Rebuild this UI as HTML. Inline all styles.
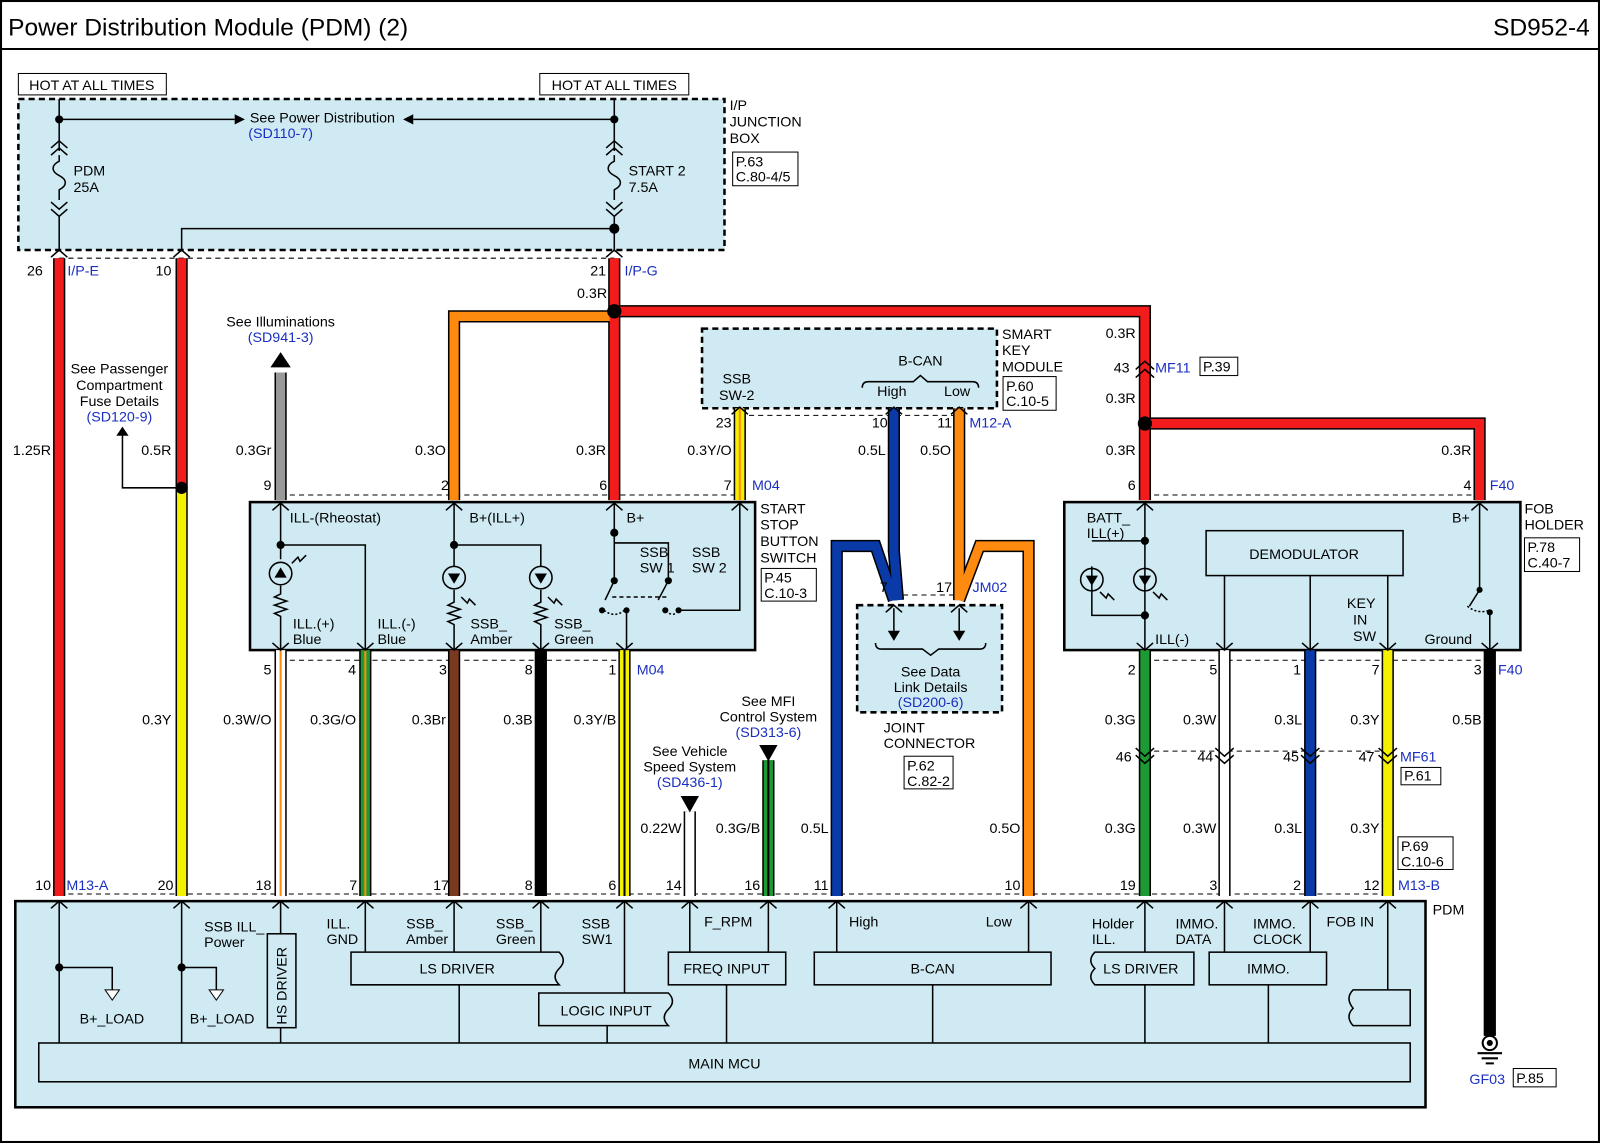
<!DOCTYPE html>
<html><head><meta charset="utf-8"><style>
html,body{margin:0;padding:0;background:#fff}
svg{display:block}
text{font-family:"Liberation Sans",Arial,sans-serif;font-size:14px;fill:#000}
.b{fill:#1a2fc0}
.c{text-anchor:middle}
.e{text-anchor:end}
</style></head><body>
<svg width="1600" height="1143" viewBox="0 0 1568 1120" preserveAspectRatio="none" xmlns="http://www.w3.org/2000/svg">
<rect x="0" y="0" width="1568" height="1120" fill="#fff"/>
<rect x="1" y="1" width="1566" height="1118" fill="none" stroke="#000" stroke-width="2"/>
<line x1="0" y1="48" x2="1568" y2="48" stroke="#000" stroke-width="2"/>
<text x="8" y="35" style="font-size:24px">Power Distribution Module (PDM) (2)</text>
<text x="1558" y="35" class="e" style="font-size:24px">SD952-4</text>

<rect x="18" y="97" width="692" height="148" fill="#cfeaf2" stroke="#000" stroke-width="2.5" stroke-dasharray="6,4"/>
<rect x="688" y="322" width="289" height="78" fill="#cfeaf2" stroke="#000" stroke-width="2.5" stroke-dasharray="6,4"/>
<rect x="840" y="593" width="142" height="105" fill="#cfeaf2" stroke="#000" stroke-width="2.5" stroke-dasharray="6,4"/>
<rect x="245" y="492" width="495" height="145" fill="#cfeaf2" stroke="#000" stroke-width="2.5"/>
<rect x="1043" y="492" width="447" height="145" fill="#cfeaf2" stroke="#000" stroke-width="2.5"/>
<rect x="15" y="883" width="1382" height="202" fill="#cfeaf2" stroke="#000" stroke-width="2.5"/>
<rect x="38" y="1022" width="1344" height="38" fill="#cfeaf2" stroke="#000" stroke-width="1.5"/>
<text x="710" y="1047" class="c">MAIN MCU</text>

<rect x="18" y="72" width="145" height="21" fill="#fff" stroke="#000"/><text x="90" y="88" class="c">HOT AT ALL TIMES</text>
<rect x="529" y="72" width="146" height="21" fill="#fff" stroke="#000"/><text x="602" y="88" class="c">HOT AT ALL TIMES</text>

<g stroke="#000" stroke-width="1" stroke-dasharray="5,4" fill="none">
<line x1="58" y1="253" x2="602" y2="253"/>
<line x1="275" y1="485" x2="725" y2="485"/>
<line x1="275" y1="647" x2="612" y2="647"/>
<line x1="725" y1="407" x2="940" y2="407"/>
<line x1="1122" y1="485" x2="1450" y2="485"/>
<line x1="1122" y1="647" x2="1460" y2="647"/>
<line x1="1122" y1="736" x2="1360" y2="736"/>
<line x1="58" y1="876" x2="1360" y2="876"/>
<line x1="876" y1="583" x2="940" y2="583"/>
</g>

<g stroke="#000" stroke-width="1.5" fill="none">
<line x1="58" y1="97" x2="58" y2="140"/><line x1="602" y1="97" x2="602" y2="140"/>
<line x1="58" y1="117" x2="230" y2="117"/><line x1="405" y1="117" x2="602" y2="117"/>
<path d="M58 140 v8 M50 145 l8 -7 l8 7 M50 152 l8 -7 l8 7 M58 152 v6 c-8 4 -8 10 0 14 c8 4 8 10 0 14 v10 M50 198 l8 7 l8 -7 M50 205 l8 7 l8 -7 M58 212 v33"/>
<path d="M602 140 v8 M594 145 l8 -7 l8 7 M594 152 l8 -7 l8 7 M602 152 v6 c-8 4 -8 10 0 14 c8 4 8 10 0 14 v10 M594 198 l8 7 l8 -7 M594 205 l8 7 l8 -7 M602 212 v33"/>
<path d="M602 224 H178 V245"/>
<path d="M178 478 H120 V425"/>
</g>
<polygon points="230,112 240,117 230,122" fill="#000"/><polygon points="405,112 395,117 405,122" fill="#000"/>
<polygon points="114,427 120,418 126,427" fill="#000"/>
<circle cx="58" cy="117" r="4"/><circle cx="602" cy="117" r="4"/><circle cx="602" cy="224" r="5"/>
<text x="316" y="120" class="c">See Power Distribution</text><text x="275" y="135" class="c b">(SD110-7)</text>
<text x="72" y="172">PDM</text><text x="72" y="188">25A</text>
<text x="616" y="172">START 2</text><text x="616" y="188">7.5A</text>
<text x="715" y="108">I/P</text><text x="715" y="124">JUNCTION</text><text x="715" y="140">BOX</text>
<rect x="718" y="149" width="64" height="33" fill="#fff" stroke="#000"/><text x="721" y="163">P.63</text><text x="721" y="178">C.80-4/5</text>

<g fill="none" stroke-linejoin="miter">
<g stroke="#000" stroke-width="12">
<path d="M58 253 V878"/><path d="M178 253 V878"/><path d="M602 253 V490"/><path d="M445 490 V310 H602"/><path d="M602 305 H1122 V490"/><path d="M1122 415 H1450 V490"/>
<path d="M275 365 V490"/><path d="M725 400 V490"/>
<path d="M876 400 V540 L880 588"/><path d="M820 878 V535 H858 L876 588"/>
<path d="M940 400 V540 L940 588"/><path d="M1008 878 V535 H960 L940 588"/>
<path d="M358 637 V878"/><path d="M445 637 V878"/><path d="M530 637 V878"/><path d="M612 637 V878"/><path d="M275 637 V878"/>
<path d="M753 745 V878"/><path d="M676 795 V878"/>
<path d="M1122 637 V878"/><path d="M1200 637 V878"/><path d="M1284 637 V878"/><path d="M1360 637 V878"/><path d="M1460 637 V1015"/>
</g>
<g stroke-width="9">
<path d="M58 253 V878" stroke="#f21c1c"/>
<path d="M178 253 V478" stroke="#f21c1c"/><path d="M178 478 V878" stroke="#f5f000"/>
<path d="M445 490 V310 H602" stroke="#ff8a10"/>
<path d="M602 253 V490" stroke="#f21c1c"/>
<path d="M602 305 H1122 V490" stroke="#f21c1c"/>
<path d="M1122 415 H1450 V490" stroke="#f21c1c"/>
<path d="M275 365 V490" stroke="#999"/>
<path d="M725 400 V490" stroke="#f5f000"/>
<path d="M876 400 V540 L880 588" stroke="#0a3aa8"/><path d="M820 878 V535 H858 L876 588" stroke="#0a3aa8"/>
<path d="M940 400 V540 L940 588" stroke="#ff8a10"/><path d="M1008 878 V535 H960 L940 588" stroke="#ff8a10"/>
<path d="M275 637 V878" stroke="#fff"/>
<path d="M358 637 V878" stroke="#1d9a34"/>
<path d="M445 637 V878" stroke="#7a3a22"/>
<path d="M530 637 V878" stroke="#000"/>
<path d="M612 637 V878" stroke="#f5f000"/>
<path d="M676 795 V878" stroke="#fff"/>
<path d="M753 745 V878" stroke="#1d9a34"/>
<path d="M1122 637 V878" stroke="#1d9a34"/>
<path d="M1200 637 V878" stroke="#fff"/>
<path d="M1284 637 V878" stroke="#0a3aa8"/>
<path d="M1360 637 V878" stroke="#f5f000"/>
<path d="M1460 637 V1015" stroke="#000"/>
</g>
<g stroke-width="2">
<path d="M275 637 V878" stroke="#ff8a10"/><path d="M358 637 V878" stroke="#ff8a10"/><path d="M612 637 V878" stroke="#000"/><path d="M753 745 V878" stroke="#000"/><path d="M725 400 V490" stroke="#ff8a10"/>
</g>
</g>
<circle cx="178" cy="478" r="6"/><circle cx="602" cy="305" r="7"/><circle cx="1122" cy="415" r="7"/>
<polygon points="265,360 275,345 285,360" fill="#000"/>
<polygon points="744,730 762,730 753,746" fill="#000"/>
<polygon points="667,780 685,780 676,796" fill="#000"/>
<g stroke="#000" stroke-width="1.5" fill="none">
<path d="M1113 362 l9 -8 l9 8 M1113 370 l9 -8 l9 8"/>
<path d="M1113 733 l9 8 l9 -8 M1113 740 l9 8 l9 -8 M1191 733 l9 8 l9 -8 M1191 740 l9 8 l9 -8 M1275 733 l9 8 l9 -8 M1275 740 l9 8 l9 -8 M1351 733 l9 8 l9 -8 M1351 740 l9 8 l9 -8"/>
</g>
<g stroke="#000" stroke-width="2" fill="none"><circle cx="1460" cy="1022" r="7"/><path d="M1448 1032 h24 M1452 1037 h16 M1456 1042 h8"/></g>
<circle cx="1460" cy="1022" r="3"/>

<text x="42" y="270" class="e">26</text><text x="66" y="270" class="b">I/P-E</text>
<text x="168" y="270" class="e">10</text>
<text x="594" y="270" class="e">21</text><text x="612" y="270" class="b">I/P-G</text>
<text x="595" y="292" class="e">0.3R</text>
<text x="50" y="446" class="e">1.25R</text><text x="168" y="446" class="e">0.5R</text><text x="266" y="446" class="e">0.3Gr</text><text x="437" y="446" class="e">0.3O</text><text x="594" y="446" class="e">0.3R</text><text x="717" y="446" class="e">0.3Y/O</text>
<text x="868" y="446" class="e">0.5L</text><text x="932" y="446" class="e">0.5O</text>
<text x="1113" y="331" class="e">0.3R</text><text x="1107" y="365" class="e">43</text><text x="1132" y="365" class="b">MF11</text>
<rect x="1176" y="350" width="37" height="18" fill="#fff" stroke="#000"/><text x="1179" y="364">P.39</text>
<text x="1113" y="395" class="e">0.3R</text><text x="1113" y="446" class="e">0.3R</text><text x="1442" y="446" class="e">0.3R</text>
<text x="117" y="366" class="c">See Passenger</text><text x="117" y="382" class="c">Compartment</text><text x="117" y="398" class="c">Fuse Details</text><text x="117" y="413" class="c b">(SD120-9)</text>
<text x="275" y="320" class="c">See Illuminations</text><text x="275" y="335" class="c b">(SD941-3)</text>
<text x="266" y="480" class="e">9</text><text x="440" y="480" class="e">2</text><text x="595" y="480" class="e">6</text><text x="717" y="480" class="e">7</text><text x="737" y="480" class="b">M04</text>
<text x="717" y="419" class="e">23</text><text x="870" y="419" class="e">10</text><text x="933" y="419" class="e">11</text><text x="950" y="419" class="b">M12-A</text>
<text x="870" y="580" class="e">7</text><text x="933" y="580" class="e">17</text><text x="953" y="580" class="b">JM02</text>
<text x="266" y="661" class="e">5</text><text x="349" y="661" class="e">4</text><text x="438" y="661" class="e">3</text><text x="522" y="661" class="e">8</text><text x="604" y="661" class="e">1</text><text x="624" y="661" class="b">M04</text>
<text x="1113" y="661" class="e">2</text><text x="1193" y="661" class="e">5</text><text x="1275" y="661" class="e">1</text><text x="1352" y="661" class="e">7</text><text x="1452" y="661" class="e">3</text><text x="1468" y="661" class="b">F40</text>
<text x="1113" y="480" class="e">6</text><text x="1442" y="480" class="e">4</text><text x="1460" y="480" class="b">F40</text>
<text x="168" y="710" class="e">0.3Y</text><text x="266" y="710" class="e">0.3W/O</text><text x="349" y="710" class="e">0.3G/O</text><text x="437" y="710" class="e">0.3Br</text><text x="522" y="710" class="e">0.3B</text><text x="604" y="710" class="e">0.3Y/B</text>
<text x="1113" y="710" class="e">0.3G</text><text x="1192" y="710" class="e">0.3W</text><text x="1276" y="710" class="e">0.3L</text><text x="1352" y="710" class="e">0.3Y</text><text x="1452" y="710" class="e">0.5B</text>
<text x="1109" y="746" class="e">46</text><text x="1189" y="746" class="e">44</text><text x="1273" y="746" class="e">45</text><text x="1347" y="746" class="e">47</text><text x="1372" y="746" class="b">MF61</text>
<rect x="1373" y="752" width="39" height="17" fill="#fff" stroke="#000"/><text x="1376" y="765">P.61</text>
<text x="668" y="816" class="e">0.22W</text><text x="745" y="816" class="e">0.3G/B</text><text x="812" y="816" class="e">0.5L</text><text x="1000" y="816" class="e">0.5O</text>
<text x="1113" y="816" class="e">0.3G</text><text x="1192" y="816" class="e">0.3W</text><text x="1276" y="816" class="e">0.3L</text><text x="1352" y="816" class="e">0.3Y</text>
<rect x="1370" y="820" width="54" height="32" fill="#fff" stroke="#000"/><text x="1373" y="834">P.69</text><text x="1373" y="849">C.10-6</text>
<text x="753" y="692" class="c">See MFI</text><text x="753" y="707" class="c">Control System</text><text x="753" y="722" class="c b">(SD313-6)</text>
<text x="676" y="741" class="c">See Vehicle</text><text x="676" y="756" class="c">Speed System</text><text x="676" y="771" class="c b">(SD436-1)</text>
<text x="866" y="718">JOINT</text><text x="866" y="733">CONNECTOR</text>
<rect x="886" y="741" width="48" height="32" fill="#fff" stroke="#000"/><text x="889" y="755">P.62</text><text x="889" y="770">C.82-2</text>
<text x="912" y="663" class="c">See Data</text><text x="912" y="678" class="c">Link Details</text><text x="912" y="693" class="c b">(SD200-6)</text>
<g stroke="#000" stroke-width="1.5" fill="none"><path d="M876 596 v22 M940 596 v22 M858 630 q0 6 6 6 h40 l8 6 l8 -6 h40 q6 0 6 -6"/></g>
<polygon points="870,618 882,618 876,628" fill="#000"/><polygon points="934,618 946,618 940,628" fill="#000"/>

<text x="722" y="376" class="c">SSB</text><text x="722" y="392" class="c">SW-2</text>
<text x="902" y="358" class="c">B-CAN</text>
<path d="M845 380 q0 -6 6 -6 h44 l7 -6 l7 6 h44 q6 0 6 6" stroke="#000" fill="none" stroke-width="1.5"/>
<text x="874" y="388" class="c">High</text><text x="938" y="388" class="c">Low</text>
<text x="982" y="332">SMART</text><text x="982" y="348">KEY</text><text x="982" y="364">MODULE</text>
<rect x="983" y="369" width="52" height="33" fill="#fff" stroke="#000"/><text x="986" y="383">P.60</text><text x="986" y="398">C.10-5</text>

<g stroke="#000" stroke-width="1.5" fill="none">
<path d="M275 494 V548 M275 534 H358 V637 M275 574 V582 l-6 3 l12 4 l-12 4 l12 4 l-12 4 l6 3 V637"/>
<circle cx="275" cy="562" r="11"/>
<path d="M445 494 V555 M445 534 H530 V555 M445 578 V590 l-6 3 l12 4 l-12 4 l12 4 l-12 4 l6 3 V637 M530 578 V590 l-6 3 l12 4 l-12 4 l12 4 l-12 4 l6 3 V637"/>
<circle cx="445" cy="566" r="11"/><circle cx="530" cy="566" r="11"/>
<path d="M602 494 V569 M602 532 H655 V569 M602 569 L593 588 M655 569 L645 588 M614 598 V637 M665 598 H725 V494"/>
<path d="M600 585 H655" stroke-dasharray="4,3"/>
<path d="M592 598 q10 8 20 0 M653 598 q6 8 12 0" stroke-dasharray="2,2"/>
<path d="M286 552 l6 -6 l2 4 l6 -6 M452 585 l6 6 l2 -4 l6 6 M537 585 l6 6 l2 -4 l6 6"/>
</g>
<polygon points="269,566 281,566 275,556" fill="#000"/><polygon points="439,562 451,562 445,572" fill="#000"/><polygon points="524,562 536,562 530,572" fill="#000"/>
<g fill="#000"><circle cx="275" cy="534" r="4"/><circle cx="445" cy="534" r="4"/><circle cx="602" cy="522" r="4"/><circle cx="602" cy="569" r="3.5"/><circle cx="655" cy="569" r="3.5"/><circle cx="590" cy="598" r="3"/><circle cx="614" cy="598" r="3"/><circle cx="652" cy="598" r="3"/><circle cx="665" cy="598" r="3"/></g>
<text x="284" y="512">ILL-(Rheostat)</text><text x="460" y="512">B+(ILL+)</text><text x="614" y="512">B+</text>
<text x="627" y="546">SSB</text><text x="627" y="561">SW 1</text><text x="678" y="546">SSB</text><text x="678" y="561">SW 2</text>
<text x="287" y="616">ILL.(+)</text><text x="287" y="631">Blue</text><text x="370" y="616">ILL.(-)</text><text x="370" y="631">Blue</text>
<text x="461" y="616">SSB_</text><text x="461" y="631">Amber</text><text x="543" y="616">SSB_</text><text x="543" y="631">Green</text>
<text x="745" y="503">START</text><text x="745" y="519">STOP</text><text x="745" y="535">BUTTON</text><text x="745" y="551">SWITCH</text>
<rect x="746" y="557" width="54" height="32" fill="#fff" stroke="#000"/><text x="749" y="571">P.45</text><text x="749" y="586">C.10-3</text>

<g stroke="#000" stroke-width="1.5" fill="none">
<rect x="1182" y="520" width="193" height="44" fill="#cfeaf2"/>
<path d="M1122 494 V637 M1070 555 V603 H1122 M1070 530 H1122 M1200 564 V637 M1284 564 V637 M1360 564 V637 M1450 494 V578 L1440 594 M1460 600 V637"/>
<circle cx="1070" cy="568" r="11"/><circle cx="1122" cy="568" r="11"/>
<path d="M1438 594 q10 8 22 4" stroke-dasharray="2,2"/>
<path d="M1078 580 l6 6 l2 -4 l6 6 M1130 580 l6 6 l2 -4 l6 6"/>
</g>
<polygon points="1064,564 1076,564 1070,574" fill="#000"/><polygon points="1116,564 1128,564 1122,574" fill="#000"/>
<g fill="#000"><circle cx="1122" cy="530" r="4"/><circle cx="1122" cy="603" r="4"/><circle cx="1450" cy="578" r="3"/><circle cx="1460" cy="600" r="3"/></g>
<text x="1278" y="548" class="c">DEMODULATOR</text>
<text x="1065" y="512">BATT_</text><text x="1065" y="527">ILL(+)</text><text x="1132" y="631">ILL(-)</text>
<text x="1320" y="596">KEY</text><text x="1326" y="612">IN</text><text x="1326" y="628">SW</text>
<text x="1423" y="512">B+</text><text x="1396" y="631">Ground</text>
<text x="1494" y="503">FOB</text><text x="1494" y="519">HOLDER</text>
<rect x="1494" y="527" width="54" height="33" fill="#fff" stroke="#000"/><text x="1497" y="541">P.78</text><text x="1497" y="556">C.40-7</text>
<text x="1440" y="1062" class="b">GF03</text>
<rect x="1483" y="1047" width="42" height="18" fill="#fff" stroke="#000"/><text x="1486" y="1061">P.85</text>

<text x="50" y="872" class="e">10</text><text x="65" y="872" class="b">M13-A</text><text x="170" y="872" class="e">20</text><text x="266" y="872" class="e">18</text>
<text x="350" y="872" class="e">7</text><text x="440" y="872" class="e">17</text><text x="522" y="872" class="e">8</text><text x="604" y="872" class="e">6</text>
<text x="668" y="872" class="e">14</text><text x="745" y="872" class="e">16</text><text x="812" y="872" class="e">11</text><text x="1000" y="872" class="e">10</text>
<text x="1113" y="872" class="e">19</text><text x="1193" y="872" class="e">3</text><text x="1275" y="872" class="e">2</text><text x="1352" y="872" class="e">12</text><text x="1370" y="872" class="b">M13-B</text>
<text x="1404" y="896">PDM</text>

<g stroke="#000" stroke-width="1.5" fill="#cfeaf2">
<path d="M58 883 V1022 M178 883 V1022 M275 883 V915 M275 1007 V1022 M358 883 V933 M445 883 V933 M530 883 V933 M612 883 V973 M676 883 V933 M753 883 V933 M820 883 V933 M1008 883 V933 M1122 883 V933 M1200 883 V933 M1284 883 V933 M1360 883 V970 M450 965 V1022 M595 1005 V1022 M712 965 V1022 M914 965 V1022 M1122 965 V1022 M1243 965 V1022" fill="none"/>
<path d="M58 948 H110 V970 M178 948 H212 V970" fill="none"/>
<rect x="262" y="915" width="28" height="92"/>
<path d="M344 933 H548 q8 8 0 16 q-8 8 0 16 H344 Z"/>
<path d="M528 973 H655 q8 8 0 16 q-8 8 0 16 H528 Z"/>
<rect x="655" y="933" width="115" height="32"/>
<rect x="798" y="933" width="232" height="32"/>
<path d="M1170 933 H1073 q-8 8 0 16 q-8 8 0 16 H1170 Z"/>
<rect x="1185" y="933" width="115" height="32"/>
<path d="M1382 970 H1326 q-8 8 0 18 q-8 8 0 17 H1382 Z"/>
</g>
<polygon points="103,970 117,970 110,980" fill="#fff" stroke="#000"/><polygon points="205,970 219,970 212,980" fill="#fff" stroke="#000"/>
<g fill="#000"><circle cx="58" cy="948" r="4"/><circle cx="178" cy="948" r="4"/></g>
<text x="78" y="1003">B+_LOAD</text><text x="186" y="1003">B+_LOAD</text>
<text transform="translate(281,1004) rotate(-90)">HS DRIVER</text>
<text x="200" y="913">SSB ILL_</text><text x="200" y="928">Power</text>
<text x="320" y="910">ILL.</text><text x="320" y="925">GND</text>
<text x="398" y="910">SSB_</text><text x="398" y="925">Amber</text>
<text x="486" y="910">SSB_</text><text x="486" y="925">Green</text>
<text x="570" y="910">SSB</text><text x="570" y="925">SW1</text>
<text x="690" y="908">F_RPM</text><text x="832" y="908">High</text><text x="966" y="908">Low</text>
<text x="1070" y="910">Holder</text><text x="1070" y="925">ILL.</text>
<text x="1152" y="910">IMMO.</text><text x="1152" y="925">DATA</text>
<text x="1228" y="910">IMMO.</text><text x="1228" y="925">CLOCK</text>
<text x="1300" y="908">FOB IN</text>
<text x="448" y="954" class="c">LS DRIVER</text><text x="594" y="995" class="c">LOGIC INPUT</text><text x="712" y="954" class="c">FREQ INPUT</text>
<text x="914" y="954" class="c">B-CAN</text><text x="1118" y="954" class="c">LS DRIVER</text><text x="1243" y="954" class="c">IMMO.</text>

<g stroke="#000" stroke-width="1.5" fill="none">
<path d="M50 252 l8 -7 l8 7 M170 252 l8 -7 l8 7 M594 252 l8 -7 l8 7"/>
<path d="M267 500 l8 -7 l8 7 M437 500 l8 -7 l8 7 M594 500 l8 -7 l8 7 M717 500 l8 -7 l8 7 M1114 500 l8 -7 l8 7 M1442 500 l8 -7 l8 7"/>
<path d="M267 630 l8 7 l8 -7 M350 630 l8 7 l8 -7 M437 630 l8 7 l8 -7 M522 630 l8 7 l8 -7 M604 630 l8 7 l8 -7 M1114 630 l8 7 l8 -7 M1192 630 l8 7 l8 -7 M1276 630 l8 7 l8 -7 M1352 630 l8 7 l8 -7 M1452 630 l8 7 l8 -7"/>
<path d="M717 406 l8 -7 l8 7 M868 406 l8 -7 l8 7 M932 406 l8 -7 l8 7"/>
<path d="M50 890 l8 -7 l8 7 M170 890 l8 -7 l8 7 M267 890 l8 -7 l8 7 M350 890 l8 -7 l8 7 M437 890 l8 -7 l8 7 M522 890 l8 -7 l8 7 M604 890 l8 -7 l8 7 M668 890 l8 -7 l8 7 M745 890 l8 -7 l8 7 M812 890 l8 -7 l8 7 M1000 890 l8 -7 l8 7 M1114 890 l8 -7 l8 7 M1192 890 l8 -7 l8 7 M1276 890 l8 -7 l8 7 M1352 890 l8 -7 l8 7"/>
<path d="M868 600 l8 -7 l8 7 M932 600 l8 -7 l8 7"/>
</g>
</svg>
</body></html>
